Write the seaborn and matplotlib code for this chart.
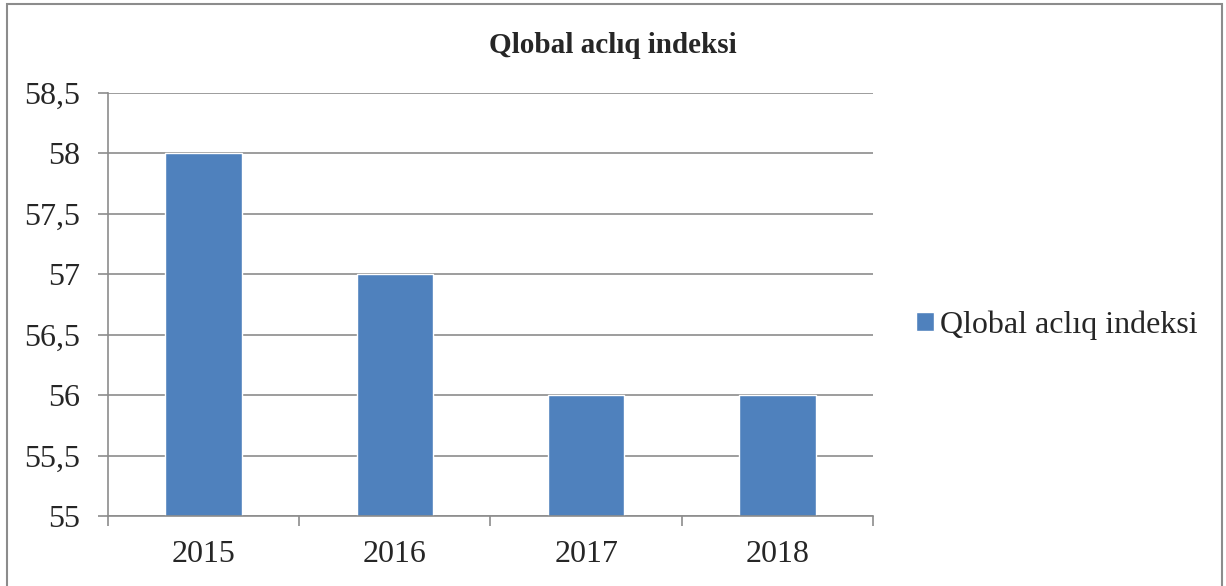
import matplotlib
matplotlib.use("Agg")
import matplotlib.pyplot as plt
import seaborn as sns
import pandas as pd
from matplotlib.patches import Rectangle

years = ["2015", "2016", "2017", "2018"]
values = [58, 57, 56, 56]
series_name = "Qlobal aclıq indeksi"
title = "Qlobal aclıq indeksi"
yticks = [55, 55.5, 56, 56.5, 57, 57.5, 58, 58.5]
ytick_labels = ["55", "55,5", "56", "56,5", "57", "57,5", "58", "58,5"]

sns.set_style("white")
plt.rcParams['font.family'] = ['Liberation Serif', 'DejaVu Serif']

df = pd.DataFrame({"year": years, "value": values, "series": series_name})

fig = plt.figure(figsize=(12.26, 5.86), dpi=100)
ax = fig.add_axes([0.0881, 0.1195, 0.712 - 0.0881, 0.8413 - 0.1195])

sns.barplot(data=df, x="year", y="value", hue="series", palette=["#4F81BD"],
            width=0.4, ax=ax, legend=False, saturation=1)

ax.set_ylim(55, 58.5)
ax.set_xlim(-0.5, 3.5)
ax.set_yticks(yticks)
ax.set_yticklabels(ytick_labels)
ax.set_xlabel("")
ax.set_ylabel("")
ax.yaxis.grid(True, color="#8c8c8c", linewidth=1.2)
ax.set_axisbelow(True)

for s in ["top", "right"]:
    ax.spines[s].set_visible(False)
for s in ["left", "bottom"]:
    ax.spines[s].set_color("#8c8c8c")
    ax.spines[s].set_linewidth(1.2)

ax.tick_params(axis="y", which="major", left=True, length=7, width=1.2,
               color="#8c8c8c", labelsize=23, pad=13)
ax.tick_params(axis="x", which="major", bottom=False, labelsize=23, pad=14)
ax.set_xticks([-0.5, 0.5, 1.5, 2.5, 3.5], minor=True)
ax.tick_params(axis="x", which="minor", bottom=True, length=7, width=1.2,
               color="#8c8c8c")

fig.text(0.5, 0.922, title, ha="center", va="center", fontsize=21,
         fontweight="bold")

handle = Rectangle((0, 0), 1, 1, facecolor="#4F81BD")
fig.legend([handle], [series_name], loc="center left",
           bbox_to_anchor=(0.737, 0.445), frameon=False, fontsize=23,
           handlelength=0.55, handleheight=0.55, handletextpad=0.2,
           borderaxespad=0)

border = Rectangle((7 / 1226, -0.02), (1222 - 7) / 1226, 1.02 - 4 / 586,
                   transform=fig.transFigure, fill=False,
                   edgecolor="#8c8c8c", linewidth=1.5)
fig.patches.append(border)

fig.savefig("out.png", dpi=100)
